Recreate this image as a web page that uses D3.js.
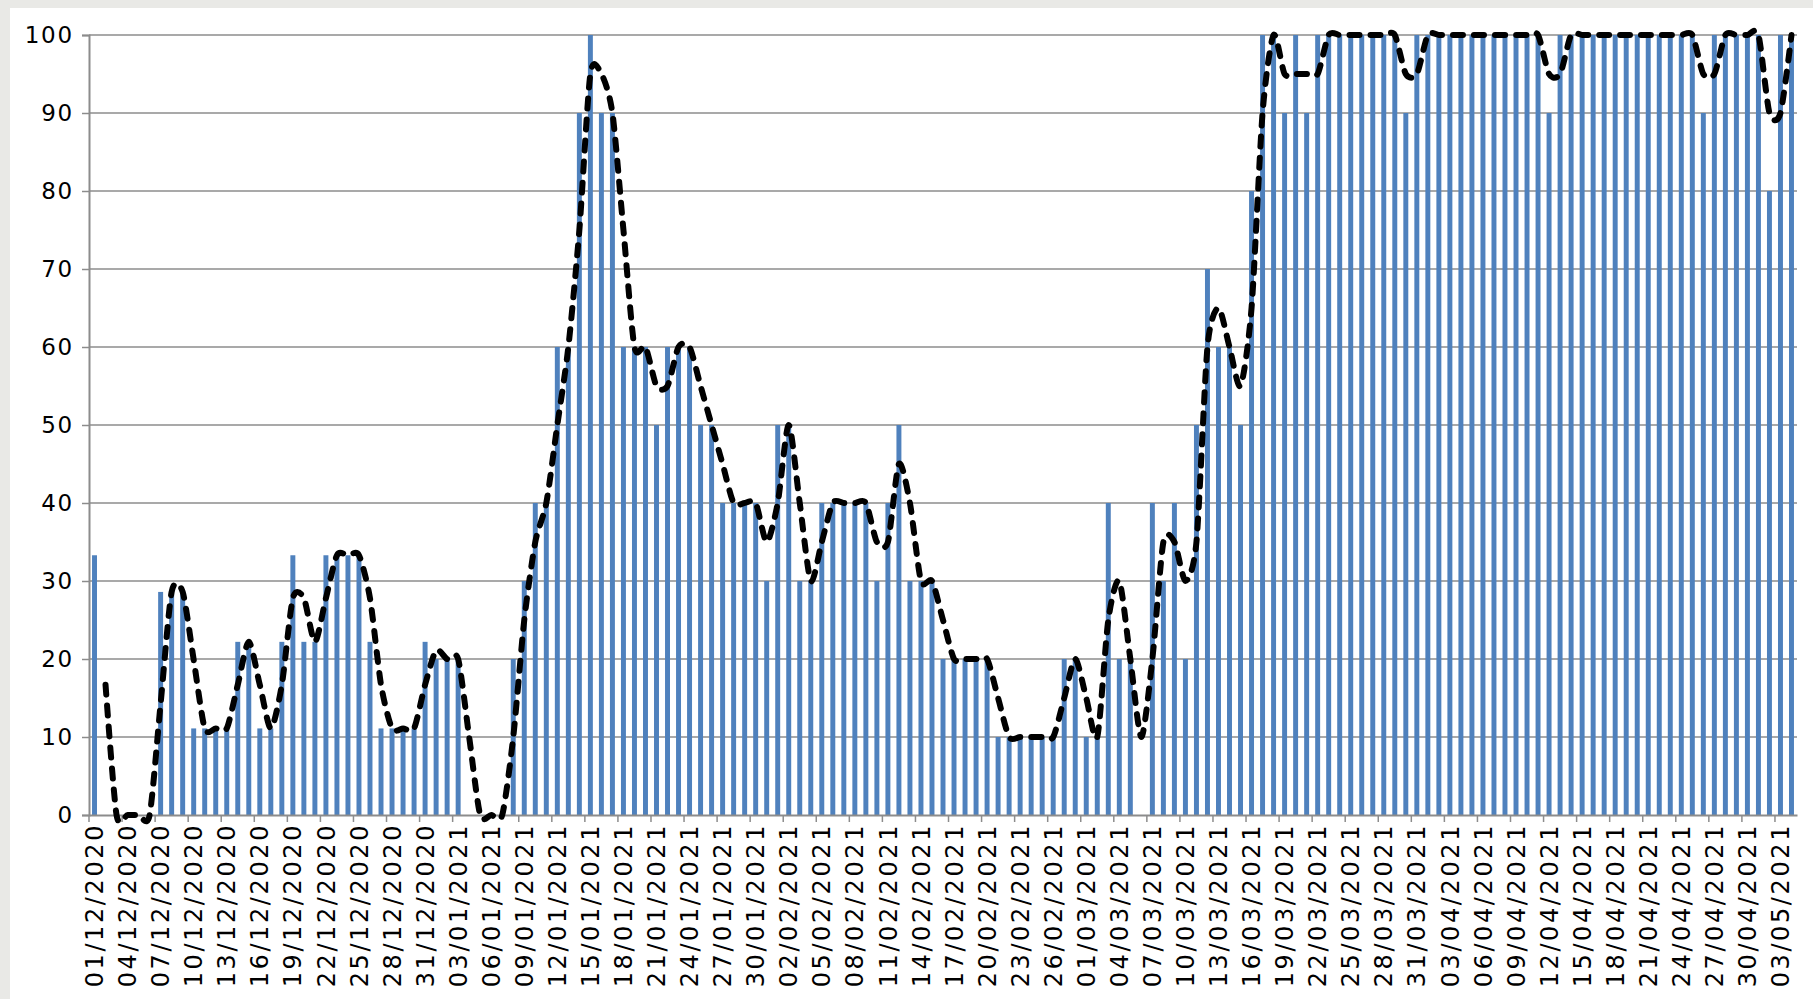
<!DOCTYPE html>
<html>
<head>
<meta charset="utf-8">
<script src="https://cdn.jsdelivr.net/npm/d3@7"></script>
<style>
  html, body { margin: 0; padding: 0; background: #e9e9e6; }
  svg { display: block; }
  .tick text { font-family: "DejaVu Sans", Verdana, sans-serif; fill: #000; }
</style>
</head>
<body>
<svg id="canvas" width="1813" height="999"></svg>
<script>
// first day of the series and how many daily bars there are
const startDay = new Date(2020, 11, 1);
const dayCount = 155;

// daily share (%) shown as bars
const dailyValues = [
  33.3, 0, 0, 0, 0, 0, 28.6, 28.6, 28.6, 11.1,
  11.1, 11.1, 11.1, 22.2, 22.2, 11.1, 11.1, 22.2, 33.3, 22.2,
  22.2, 33.3, 33.3, 33.3, 33.3, 22.2, 11.1, 11.1, 11.1, 11.1,
  22.2, 20, 20, 20, 0, 0, 0, 0, 20, 30,
  40, 40, 60, 60, 90, 100, 90, 90, 60, 60,
  60, 50, 60, 60, 60, 50, 50, 40, 40, 40,
  40, 30, 50, 50, 30, 30, 40, 40, 40, 40,
  40, 30, 40, 50, 30, 30, 30, 20, 20, 20,
  20, 20, 10, 10, 10, 10, 10, 10, 20, 20,
  10, 10, 40, 20, 20, 0, 40, 30, 40, 20,
  50, 70, 60, 60, 50, 80, 100, 100, 90, 100,
  90, 100, 100, 100, 100, 100, 100, 100, 100, 90,
  100, 100, 100, 100, 100, 100, 100, 100, 100, 100,
  100, 100, 90, 100, 100, 100, 100, 100, 100, 100,
  100, 100, 100, 100, 100, 100, 90, 100, 100, 100,
  100, 100, 80, 100, 100
];

// 2-day moving average trend (dashed), no value on the first day
const trendValues = [
  null, 16.7, 0, 0, 0, 0, 14.3, 28.6, 28.6, 19.9,
  11.1, 11.1, 11.1, 16.7, 22.2, 16.7, 11.1, 16.7, 27.8, 27.8,
  22.2, 27.8, 33.3, 33.3, 33.3, 27.8, 16.7, 11.1, 11.1, 11.1,
  16.7, 21.1, 20, 20, 10, 0, 0, 0, 10, 25,
  35, 40, 50, 60, 75, 95, 95, 90, 75, 60,
  60, 55, 55, 60, 60, 55, 50, 45, 40, 40,
  40, 35, 40, 50, 40, 30, 35, 40, 40, 40,
  40, 35, 35, 45, 40, 30, 30, 25, 20, 20,
  20, 20, 15, 10, 10, 10, 10, 10, 15, 20,
  15, 10, 25, 30, 20, 10, 20, 35, 35, 30,
  35, 60, 65, 60, 55, 65, 90, 100, 95, 95,
  95, 95, 100, 100, 100, 100, 100, 100, 100, 95,
  95, 100, 100, 100, 100, 100, 100, 100, 100, 100,
  100, 100, 95, 95, 100, 100, 100, 100, 100, 100,
  100, 100, 100, 100, 100, 100, 95, 95, 100, 100,
  100, 100, 90, 90, 100
];

const yTicks = [0, 10, 20, 30, 40, 50, 60, 70, 80, 90, 100];
const labelEvery = 3;

const fmt = d3.timeFormat("%d/%m/%Y");
const categories = d3.timeDay
  .range(startDay, d3.timeDay.offset(startDay, dayCount))
  .map(fmt);

const plot = { left: 89, right: 1797, top: 35, bottom: 815 };

const svg = d3.select("#canvas");

// white panel over the grey backdrop
svg.append("rect")
  .attr("x", 10)
  .attr("y", 8)
  .attr("width", 1813 - 10)
  .attr("height", 999 - 8)
  .attr("fill", "#fff");

const x = d3.scaleBand()
  .domain(categories)
  .range([plot.left, plot.right])
  .paddingInner(0.55)
  .paddingOuter(0.275);

const y = d3.scaleLinear()
  .domain([0, 100])
  .range([plot.bottom, plot.top]);

const step = x.step();

// horizontal grid
svg.append("g")
  .selectAll("line")
  .data(yTicks.filter(t => t > 0))
  .enter()
  .append("line")
  .attr("x1", plot.left)
  .attr("x2", plot.right)
  .attr("y1", d => y(d))
  .attr("y2", d => y(d))
  .attr("stroke", "#8c8c8c")
  .attr("stroke-width", 1.5);

// bars
svg.append("g")
  .selectAll("rect")
  .data(dailyValues)
  .enter()
  .append("rect")
  .attr("x", (d, i) => x(categories[i]))
  .attr("y", d => y(d))
  .attr("width", x.bandwidth())
  .attr("height", d => y(0) - y(d))
  .attr("fill", "#4f81bd");

// y axis
const yAxis = svg.append("g")
  .attr("transform", `translate(${plot.left},0)`)
  .call(d3.axisLeft(y).tickValues(yTicks).tickSize(7).tickPadding(8));

yAxis.select(".domain").attr("stroke", "#8c8c8c").attr("stroke-width", 2);
yAxis.selectAll(".tick line").attr("stroke", "#8c8c8c").attr("stroke-width", 1.5);
yAxis.selectAll(".tick text")
  .attr("font-size", 23)
  .style("letter-spacing", "1.8px");

// x axis: ticks sit on category boundaries, labels in the middle
const xAxis = svg.append("g")
  .attr("transform", `translate(0,${plot.bottom})`)
  .call(
    d3.axisBottom(x)
      .tickValues(categories.filter((c, i) => i % labelEvery === 0))
      .tickSize(7)
      .tickSizeOuter(0)
  );

xAxis.select(".domain").attr("stroke", "#8c8c8c").attr("stroke-width", 2);
xAxis.selectAll(".tick line")
  .attr("x1", -step / 2)
  .attr("x2", -step / 2)
  .attr("stroke", "#8c8c8c")
  .attr("stroke-width", 1.5);
xAxis.selectAll(".tick text")
  .attr("font-size", 24)
  .style("letter-spacing", "2.6px")
  .attr("text-anchor", "end")
  .attr("dy", "0.36em")
  .attr("transform", "translate(0,8) rotate(-90)")
  .attr("x", 0)
  .attr("y", 0);

// dashed moving-average trend
const trend = d3.line()
  .defined(d => d != null)
  .x((d, i) => x(categories[i]) + x.bandwidth() / 2)
  .y(d => y(d))
  .curve(d3.curveCardinal.tension(0.25));

svg.append("path")
  .attr("d", trend(trendValues))
  .attr("fill", "none")
  .attr("stroke", "#000")
  .attr("stroke-width", 6)
  .attr("stroke-dasharray", "10,11")
  .attr("stroke-linecap", "round")
  .attr("stroke-linejoin", "round");
</script>
</body>
</html>
